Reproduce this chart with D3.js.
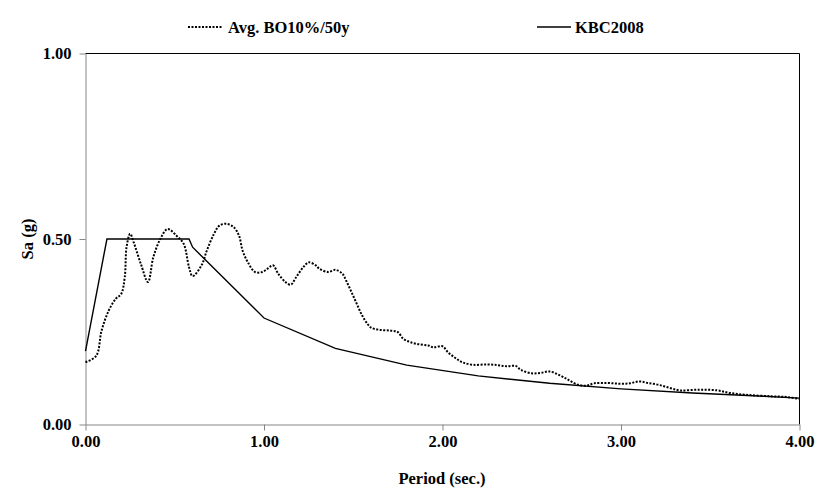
<!DOCTYPE html>
<html><head><meta charset="utf-8">
<script src="https://cdn.jsdelivr.net/npm/d3@7"></script>
<style>
html,body{margin:0;padding:0;background:#fff;}
text{font-family:"Liberation Serif","Times New Roman",serif;font-weight:bold;fill:#000;}
</style></head>
<body>
<svg id="chart" width="826" height="492"></svg>
<script>
// ---- data ----
const seriesNames = ["Avg. BO10%/50y", "KBC2008"];
const avgPeriod = [0.00,0.06,0.09,0.13,0.17,0.20,0.22,0.23,0.25,0.27,0.31,0.35,0.38,0.42,0.46,0.51,0.55,0.58,0.60,0.65,0.68,0.72,0.75,0.79,0.83,0.86,0.88,0.91,0.95,0.99,1.02,1.05,1.08,1.12,1.15,1.18,1.22,1.25,1.29,1.31,1.36,1.40,1.44,1.46,1.49,1.52,1.55,1.58,1.60,1.65,1.71,1.75,1.78,1.82,1.87,1.92,1.95,2.00,2.03,2.07,2.11,2.17,2.25,2.31,2.36,2.41,2.44,2.50,2.55,2.60,2.66,2.71,2.76,2.81,2.85,2.92,2.99,3.05,3.10,3.15,3.21,3.27,3.33,3.44,3.54,3.61,3.70,3.84,3.93,4.00];
const avgSa = [0.168,0.185,0.253,0.307,0.339,0.352,0.397,0.478,0.514,0.491,0.433,0.384,0.451,0.501,0.527,0.509,0.487,0.424,0.400,0.429,0.469,0.514,0.536,0.541,0.532,0.509,0.469,0.437,0.411,0.411,0.420,0.429,0.406,0.384,0.377,0.397,0.424,0.437,0.429,0.420,0.411,0.417,0.406,0.388,0.357,0.325,0.294,0.271,0.261,0.255,0.253,0.249,0.231,0.222,0.216,0.213,0.208,0.211,0.195,0.180,0.168,0.161,0.162,0.160,0.157,0.158,0.147,0.138,0.139,0.143,0.132,0.119,0.107,0.105,0.111,0.112,0.110,0.111,0.116,0.112,0.107,0.099,0.092,0.094,0.092,0.085,0.080,0.076,0.074,0.069];
const kbcPeriod = [0.00,0.12,0.58,0.60,1.00,1.40,1.80,2.20,2.60,3.00,3.40,3.80,4.00];
const kbcSa = [0.198,0.500,0.500,0.478,0.287,0.205,0.160,0.131,0.111,0.096,0.085,0.076,0.071];
const xTicks = [0,1,2,3,4];
const yTicks = [0,0.5,1];
const xTitle = "Period (sec.)";
const yTitle = "Sa (g)";

// ---- layout ----
const svg = d3.select("#chart");
const L = 85.5, R = 799.5, T = 53.5, B = 424.5;
const x = d3.scaleLinear().domain([0,4]).range([L,R]);
const y = d3.scaleLinear().domain([0,1]).range([B,T]);
const gray = "#868686";
const fs = "16.5px";

// plot border (top & right black)
svg.append("path").attr("d",`M${L},${T}H${R}V${B}`).attr("fill","none").attr("stroke","#000").attr("stroke-width",1);

// axes
const xAxis = svg.append("g").attr("transform",`translate(0,${B})`)
  .call(d3.axisBottom(x).tickValues(xTicks).tickFormat(d3.format(".2f")).tickSizeInner(6).tickSizeOuter(0).tickPadding(5));
const yAxis = svg.append("g").attr("transform",`translate(${L},0)`)
  .call(d3.axisLeft(y).tickValues(yTicks).tickFormat(d3.format(".2f")).tickSizeInner(6).tickSizeOuter(0).tickPadding(8));
[xAxis,yAxis].forEach(g=>{
  g.select(".domain").attr("stroke",gray);
  g.selectAll(".tick line").attr("stroke",gray);
  g.selectAll("text").attr("font-family",'"Liberation Serif",serif').attr("font-weight","bold").attr("font-size",fs).attr("fill","#000");
});

// lines
const line = d3.line().x(d=>x(d[0])).y(d=>y(d[1]));
const smooth = d3.line().x(d=>x(d[0])).y(d=>y(d[1])).curve(d3.curveCatmullRom.alpha(0.5));
svg.append("path").datum(kbcPeriod.map((p,i)=>[p,kbcSa[i]]))
  .attr("d",line).attr("fill","none").attr("stroke","#000").attr("stroke-width",1.4);
svg.append("path").datum(avgPeriod.map((p,i)=>[p,avgSa[i]]))
  .attr("d",smooth).attr("fill","none").attr("stroke","#000").attr("stroke-width",2).attr("stroke-dasharray","2,1.5");

// legend
const lg = svg.append("g");
lg.append("line").attr("x1",188).attr("x2",222).attr("y1",27).attr("y2",27).attr("stroke","#000").attr("stroke-width",2).attr("stroke-dasharray","2,1.5");
lg.append("text").attr("x",228).attr("y",33).attr("font-size",fs).text(seriesNames[0]);
lg.append("line").attr("x1",537).attr("x2",571).attr("y1",27).attr("y2",27).attr("stroke","#000").attr("stroke-width",1.4);
lg.append("text").attr("x",575).attr("y",33).attr("font-size",fs).text(seriesNames[1]);

// titles
svg.append("text").attr("x",442).attr("y",484).attr("text-anchor","middle").attr("font-size",fs).text(xTitle);
svg.append("text").attr("transform","translate(33,239) rotate(-90)").attr("text-anchor","middle").attr("font-size",fs).text(yTitle);
</script>
</body></html>
